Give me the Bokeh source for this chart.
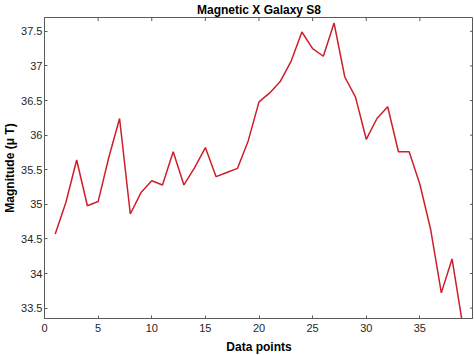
import math
from bokeh.plotting import figure
from bokeh.models import FixedTicker, Range1d
from bokeh.embed import file_html
from bokeh.resources import INLINE

x_points = list(range(1, 40))
magnitude = [34.57, 35.03, 35.64, 34.98, 35.04, 35.68, 36.24, 34.86, 35.17, 35.34,
             35.28, 35.76, 35.28, 35.53, 35.82, 35.40, 35.46, 35.52, 35.92, 36.48,
             36.61, 36.78, 37.07, 37.49, 37.25, 37.14, 37.62, 36.84, 36.55, 35.94,
             36.24, 36.41, 35.76, 35.76, 35.29, 34.64, 33.72, 34.21, 33.25]

x_ticks = [0, 5, 10, 15, 20, 25, 30, 35]
y_ticks = [33.5, 34, 34.5, 35, 35.5, 36, 36.5, 37, 37.5]
y_tick_labels = ["33.5", "34", "34.5", "35", "35.5", "36", "36.5", "37", "37.5"]

X_MIN, X_MAX = 0, 40
Y_MIN, Y_MAX = 33.35, 37.7

FONT = "Liberation Sans"
TXT = "#262626"
AX = "#5a5a5a"

p = figure(frame_width=429, frame_height=301, output_backend="svg", toolbar_location=None,
           x_range=Range1d(X_MIN, X_MAX), y_range=Range1d(Y_MIN, Y_MAX),
           min_border_left=37, min_border_right=0, min_border_top=0, min_border_bottom=0)

p.title.text = "Magnetic X Galaxy S8"
p.title.align = "center"
p.title.text_font = FONT
p.title.text_font_size = "12px"
p.title.text_font_style = "bold"
p.title.text_color = "#000000"
p.title.standoff = 1
p.title.offset = 0

p.line(x_points, magnitude, line_color="#cc1f2a", line_width=1.5)

# ticks on the top and right edges of the box (half of each dash lies inside the frame)
p.scatter([X_MAX] * len(y_ticks), y_ticks, marker="dash", size=7, line_color=AX, line_width=1)
p.scatter(x_ticks, [Y_MAX] * len(x_ticks), marker="dash", angle=math.pi / 2, size=7,
          line_color=AX, line_width=1)

p.grid.visible = False
p.outline_line_color = AX
p.background_fill_color = "white"
p.border_fill_color = "white"

for ax in (p.xaxis[0], p.yaxis[0]):
    ax.axis_line_color = AX
    ax.major_tick_line_color = AX
    ax.major_tick_in = 3
    ax.major_tick_out = 0
    ax.minor_tick_line_color = None
    ax.major_label_text_font = FONT
    ax.major_label_text_font_size = "11px"
    ax.major_label_text_color = TXT
    ax.axis_label_text_font = FONT
    ax.axis_label_text_font_size = "12px"
    ax.axis_label_text_font_style = "bold"
    ax.axis_label_text_color = "#000000"

p.xaxis.ticker = FixedTicker(ticks=x_ticks)
p.yaxis.ticker = FixedTicker(ticks=y_ticks)
p.yaxis.major_label_overrides = {t: l for t, l in zip(y_ticks, y_tick_labels)}
p.xaxis.axis_label = "Data points"
p.yaxis.axis_label = "Magnitude (\u03bc T)"
p.xaxis.major_label_standoff = 5
p.xaxis.axis_label_standoff = 5
p.yaxis.major_label_standoff = 2
p.yaxis.axis_label_standoff = 1

open("out.html", "w").write(file_html(p, INLINE))
